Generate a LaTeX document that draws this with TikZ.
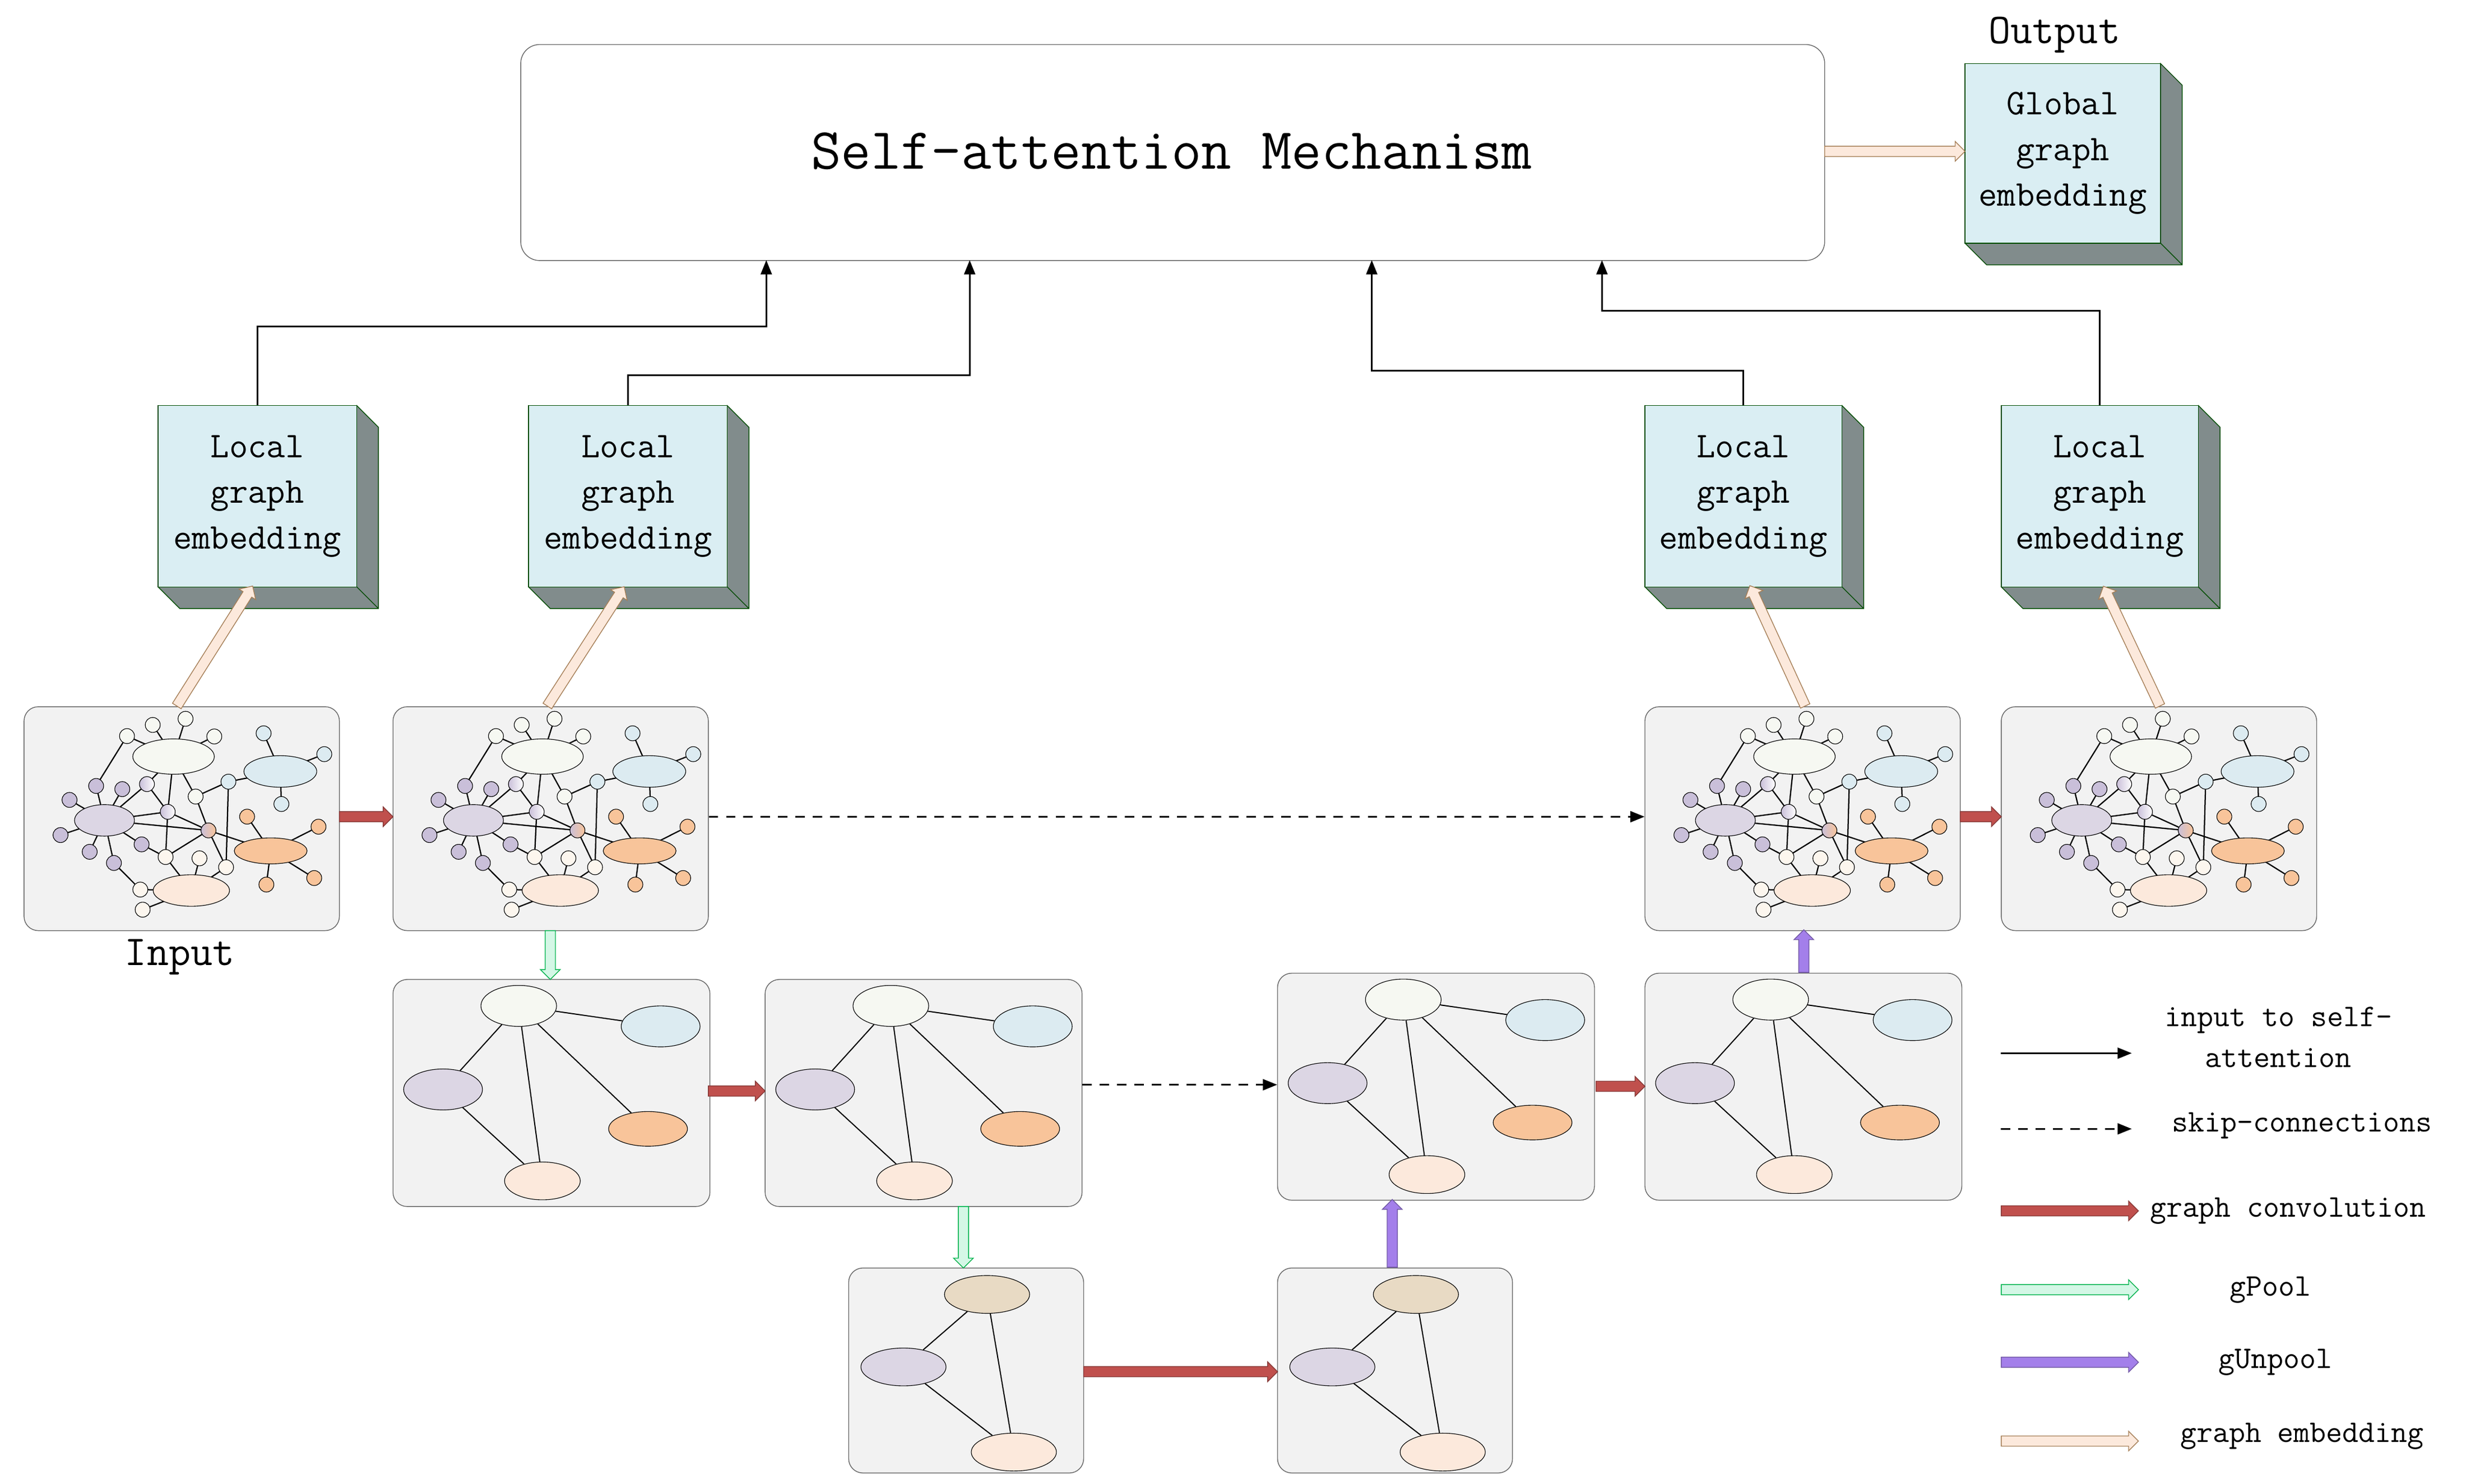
\documentclass[tikz,border=0pt]{standalone}
\usepackage{fontspec}
\usetikzlibrary{shapes.geometric,shapes.arrows,arrows.meta}
\definecolor{pan}{HTML}{F2F2F2}
\definecolor{face}{HTML}{DAEEF3}
\definecolor{side}{HTML}{818C8C}
\definecolor{cw}{HTML}{F6F8F2}
\definecolor{cb}{HTML}{DCEBF1}
\definecolor{cp}{HTML}{DCD6E4}
\definecolor{cpd}{HTML}{C9BFD9}
\definecolor{co}{HTML}{F8C49A}
\definecolor{ck}{HTML}{FCE9DC}
\definecolor{cc}{HTML}{FCF6EE}
\definecolor{ct}{HTML}{E8DAC4}
\definecolor{red}{HTML}{C0504D}
\definecolor{mint}{HTML}{D4F7E6}
\definecolor{vio}{HTML}{A37FEA}
\definecolor{emb}{HTML}{FCE9DC}
\tikzset{
 panel/.style={draw=black!60, fill=pan, rounded corners=9pt, line width=0.5pt},
 ed/.style={line width=0.8pt},
 sed/.style={line width=0.7pt},
 sn/.style={ellipse, draw, line width=0.4pt, inner sep=0, minimum width=9.5pt, minimum height=9.5pt},
 el/.style n args={3}{ellipse, draw, line width=0.4pt, inner sep=0, fill=#1, minimum width=#2, minimum height=#3},
 farrow/.style={single arrow, inner xsep=0pt, inner ysep=3pt, single arrow head extend=3pt, single arrow head indent=0pt, minimum height=#1, anchor=tail, line width=0.5pt},
 red arr/.style={farrow=#1, fill=red, draw=red!70!black},
 mint arr/.style={farrow=#1, fill=mint, draw=teal!60!green},
 vio arr/.style={farrow=#1, fill=vio, draw=vio!70!black},
 emb arr/.style={farrow=#1, fill=emb, draw=brown!60!gray},
 blk/.style={line width=1pt, -{Triangle[length=9pt,width=7pt]}},
 lbl/.style={font=\fontsize{23}{29}\selectfont\ttfamily, align=center},
 leg/.style={font=\fontsize{20}{26}\selectfont\ttfamily, align=center},
}
\newcommand\cube[5]{% name, x1,y1,x2,y2
 \fill[side] (#4,#3)--(#4+14,#3+14)--(#4+14,#5+14)--(#2+14,#5+14)--(#2,#5)--(#4,#5)--cycle;
 \draw[black!70!green, line width=0.5pt] (#4,#3)--(#4+14,#3+14)--(#4+14,#5+14)--(#2+14,#5+14)--(#2,#5) (#4,#5)--(#4+14,#5+14);
 \node[draw=black!70!green, fill=face, line width=0.5pt, minimum width=#4-#2, minimum height=#5-#3, inner sep=0, anchor=north west] (#1) at (#2,#3) {};
}
\newcommand\biggraph[2]{%
 \node[panel, minimum width=200pt, minimum height=142pt, anchor=north west] (#2) at (#1) {};
 \begin{scope}[shift={(#1)}, x=0.136pt, y=-0.118pt, shift={(-28,-15)}]
 \foreach \n/\p in {W/{727,285},B/{1225,365},P/{405,628},O/{1180,792},K/{810,1005},
  w1/{510,175},w2/{630,115},w3/{783,82},w4/{917,177},w5/{830,500},c1/{690,825},c2/{848,832},c3/{972,880},c4/{572,1000},c5/{583,1108},
  b1/{1147,160},b2/{1430,272},b3/{983,420},b4/{1230,540},
  p1/{366,443},p2/{488,460},p3/{242,518},p4/{200,707},p5/{336,797},p6/{449,857},p7/{578,757},
  o1/{1070,608},o2/{1403,662},o3/{1160,973},o4/{1383,938},g1/{603,433},g2/{700,582},g3/{890,682}}
  {\coordinate (#2\n) at (\p);}
 \foreach \a/\b in {W/w1,W/w2,W/w3,W/w4,w1/p1,W/g1,W/g2,W/w5,w5/b3,b3/B,b3/c3,w5/g3,B/b1,B/b2,B/b4,
  P/p1,P/p2,P/p3,P/p4,P/p5,P/p6,P/p7,P/g1,P/g2,P/g3,g1/g2,g2/g3,g2/c1,p7/c1,c1/g3,c1/K,p6/c4,c4/K,c5/K,c2/K,c3/K,g3/c3,g3/O,O/o1,O/o2,O/o3,O/o4}
  {\draw[ed] (#2\a)--(#2\b);}
 \node[el={cw}{51.7pt}{22.4pt}] at (#2W) {};
 \node[el={cb}{46.2pt}{20pt}] at (#2B) {};
 \node[el={cp}{38pt}{20pt}] at (#2P) {};
 \node[el={co}{46.2pt}{16.5pt}] at (#2O) {};
 \node[el={ck}{48.4pt}{20pt}] at (#2K) {};
 \foreach \n in {w1,w2,w3,w4,w5} \node[sn, fill=cw] at (#2\n) {};
 \foreach \n in {c1,c2,c3,c4,c5} \node[sn, fill=cc] at (#2\n) {};
 \foreach \n in {b1,b2,b3,b4} \node[sn, fill=cb] at (#2\n) {};
 \foreach \n in {p1,p2,p3,p4,p5,p6,p7} \node[sn, fill=cpd] at (#2\n) {};
 \foreach \n in {o1,o2,o3,o4} \node[sn, fill=co] at (#2\n) {};
 \node[sn, left color=cpd, right color=white] at (#2g1) {};
 \node[sn, left color=cpd, right color=white] at (#2g2) {};
 \node[sn, left color=cpd, right color=co] at (#2g3) {};
 \end{scope}
}
\newcommand\smallgraph[2]{%
 \node[panel, minimum width=201pt, minimum height=144pt, anchor=north west] (#2) at (#1) {};
 \begin{scope}[shift={(#1)}]
 \node[el={cw}{48pt}{26pt}] (#2w) at (80,17) {};
 \node[el={cb}{50pt}{26pt}] (#2b) at (170,30) {};
 \node[el={cp}{50pt}{26pt}] (#2p) at (32,70) {};
 \node[el={co}{50pt}{22pt}] (#2o) at (162,95) {};
 \node[el={ck}{48pt}{24pt}] (#2k) at (95,128) {};
 \draw[sed] (#2w)--(#2b) (#2w)--(#2p) (#2w)--(#2o) (#2w)--(#2k) (#2p)--(#2k);
 \end{scope}
}
\newcommand\trigraph[2]{%
 \node[panel, minimum width=149pt, minimum height=130pt, anchor=north west] (#2) at (#1) {};
 \begin{scope}[shift={(#1)}]
 \node[el={ct}{54pt}{24pt}] (#2t) at (88,17) {};
 \node[el={cp}{54pt}{24pt}] (#2p) at (35,63) {};
 \node[el={ck}{54pt}{24pt}] (#2k) at (105,117) {};
 \draw[sed] (#2t)--(#2p) (#2t)--(#2k) (#2p)--(#2k);
 \end{scope}
}
\begin{document}
\begin{tikzpicture}[x=1pt,y=-1pt]
\useasboundingbox (0,0) rectangle (1564,941);
% top box
\node[draw=black!60, rounded corners=12pt, minimum width=827pt, minimum height=137pt, anchor=north west, line width=0.5pt] (sa) at (330,28) {};
\node[font=\fontsize{37}{44}\selectfont\ttfamily] at (743,96) {Self-attention Mechanism};
\cube{G}{1246}{40}{1370}{154}
\node[lbl] at (G) {Global\\graph\\embedding};
\node[font=\fontsize{27}{32}\selectfont\ttfamily] at (1303,22) {Output};
\node[emb arr=89pt] (ea0) at (1157,96) {};
% local boxes
\cube{L1}{100}{257}{226}{372}
\cube{L2}{335}{257}{461}{372}
\cube{L3}{1043}{257}{1168}{372}
\cube{L4}{1269}{257}{1394}{372}
\foreach \i in {1,...,4} \node[lbl] at (L\i) {Local\\graph\\embedding};
% black arrows
\coordinate (t1) at (486,165); \coordinate (t2) at (615,165);
\coordinate (t3) at (870,165); \coordinate (t4) at (1016,165);
\draw[blk] (L1.north) |- (486,207) -- (t1);
\draw[blk] (L2.north) |- (615,238) -- (t2);
\draw[blk] (L3.north) |- (870,235) -- (t3);
\draw[blk] (L4.north) |- (1016,197) -- (t4);
% panels
\biggraph{15,448}{A}
\biggraph{249,448}{Bq}
\biggraph{1043,448}{C}
\biggraph{1269,448}{D}
\smallgraph{249,621}{E}
\smallgraph{485,621}{F}
\smallgraph{810,617}{H}
\smallgraph{1043,617}{I}
\trigraph{538,804}{J}
\trigraph{810,804}{M}
\node[font=\fontsize{27}{32}\selectfont\ttfamily] at (114,607) {Input};
% embedding arrows
\node[emb arr=90pt, rotate=57.7] at (112,448) {};
\node[emb arr=90pt, rotate=57.2] at (347,448) {};
\node[emb arr=84pt, rotate=114.7] at (1145,448) {};
\node[emb arr=84pt, rotate=115.3] at (1370,448) {};
% conv arrows
\node[red arr=34pt] at (215,518) {};
\node[red arr=26pt] at (1243,518) {};
\node[red arr=36pt] at (449,692) {};
\node[red arr=31pt] at (1012,689) {};
\node[red arr=123pt] at (687,870) {};
% pool arrows
\node[mint arr=31pt, rotate=-90] at (349,590) {};
\node[mint arr=39pt, rotate=-90] at (611,765) {};
\node[vio arr=43pt, rotate=90] at (883,804) {};
\node[vio arr=27pt, rotate=90] at (1144,617) {};
% skip
\draw[line width=1pt, dashed, dash pattern=on 6pt off 5pt, -{Triangle[length=9pt,width=7pt]}] (Bq.east |- 0,518) -- (C.west |- 0,518);
\draw[line width=1pt, dashed, dash pattern=on 6pt off 5pt, -{Triangle[length=9pt,width=7pt]}] (F.east |- 0,688) -- (H.west |- 0,688);
% legend
\coordinate (l1a) at (1269,668); \coordinate (l1b) at (1352,668);
\draw[blk] (l1a) -- (l1b);
\node[leg] at (1445,658) {input to self-\\attention};
\coordinate (l2a) at (1269,716); \coordinate (l2b) at (1352,716);
\draw[line width=1pt, dashed, dash pattern=on 6pt off 5pt, -{Triangle[length=9pt,width=7pt]}] (l2a) -- (l2b);
\node[leg] at (1460,714) {skip-connections};
\node[red arr=87pt] at (1269,768) {};
\node[leg, anchor=west] at (1360,768) {graph convolution};
\node[mint arr=87pt] at (1269,818) {};
\node[leg] at (1440,818) {gPool};
\node[vio arr=87pt] at (1269,864) {};
\node[leg] at (1443,864) {gUnpool};
\node[emb arr=87pt] at (1269,914) {};
\node[leg] at (1460,911) {graph embedding};
\end{tikzpicture}
\end{document}
